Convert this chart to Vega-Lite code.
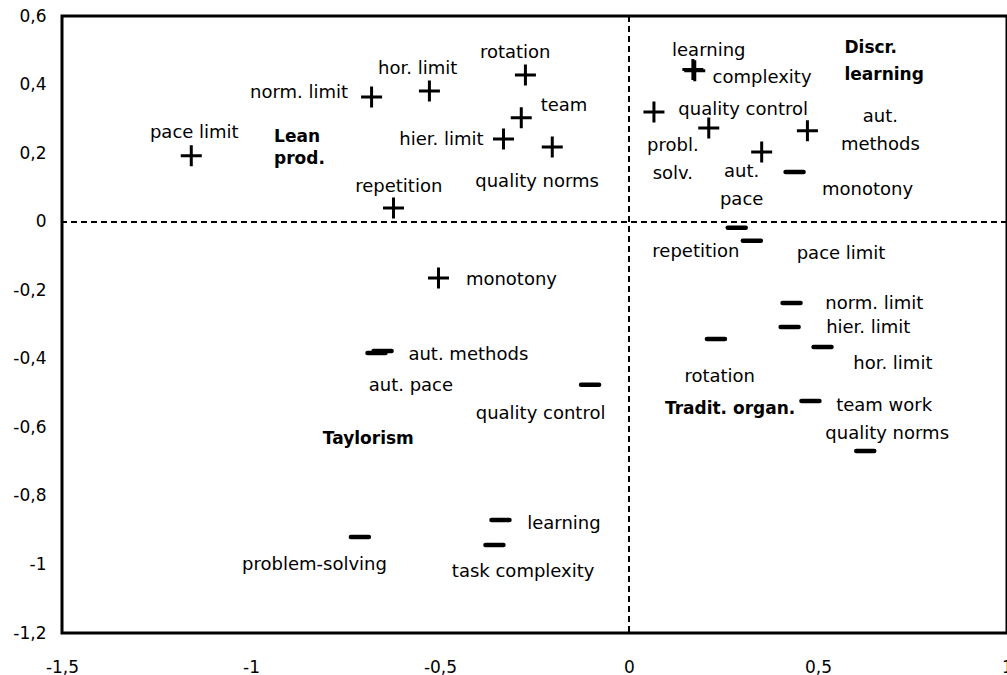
{
  "$schema": "https://vega.github.io/schema/vega-lite/v6.json",
  "width": 945,
  "height": 617,
  "autosize": {"type": "none"},
  "padding": {"left": 62, "top": 16, "right": 0, "bottom": 42},
  "background": "white",
  "config": {
    "view": {"stroke": "black", "strokeWidth": 3},
    "locale": {"number": {"decimal": ",", "thousands": ".", "grouping": [3], "currency": ["", ""], "minus": "-"}},
    "axis": {"domain": false, "ticks": false, "grid": false, "labelFont": "DejaVu Sans", "labelFontSize": 17, "labelColor": "black", "title": null, "labelFlush": false, "labelOverlap": false, "format": ".1~f"}
  },
  "datasets": {
    "items": [
      {"label": "pace limit", "sign": "plus", "x": -1.158, "y": 0.192, "lx": -1.150, "ly": 0.259},
      {"label": "norm. limit", "sign": "plus", "x": -0.681, "y": 0.364, "lx": -0.873, "ly": 0.375},
      {"label": "hor. limit", "sign": "plus", "x": -0.528, "y": 0.381, "lx": -0.559, "ly": 0.445},
      {"label": "rotation", "sign": "plus", "x": -0.274, "y": 0.428, "lx": -0.301, "ly": 0.492},
      {"label": "team", "sign": "plus", "x": -0.285, "y": 0.303, "lx": -0.172, "ly": 0.338},
      {"label": "hier. limit", "sign": "plus", "x": -0.332, "y": 0.241, "lx": -0.496, "ly": 0.238},
      {"label": "quality norms", "sign": "plus", "x": -0.203, "y": 0.218, "lx": -0.243, "ly": 0.116},
      {"label": "repetition", "sign": "plus", "x": -0.623, "y": 0.040, "lx": -0.609, "ly": 0.101},
      {"label": "monotony", "sign": "plus", "x": -0.504, "y": -0.164, "lx": -0.311, "ly": -0.170},
      {"label": "learning", "sign": "plus", "x": 0.169, "y": 0.444, "lx": 0.211, "ly": 0.498},
      {"label": "complexity", "sign": "plus", "x": 0.174, "y": 0.440, "lx": 0.352, "ly": 0.419},
      {"label": "quality control", "sign": "plus", "x": 0.066, "y": 0.320, "lx": 0.302, "ly": 0.326},
      {"label": "probl.\nsolv.", "sign": "plus", "x": 0.211, "y": 0.273, "lx": 0.116, "ly": 0.221},
      {"label": "aut.\nmethods", "sign": "plus", "x": 0.472, "y": 0.265, "lx": 0.665, "ly": 0.305},
      {"label": "aut.\npace", "sign": "plus", "x": 0.351, "y": 0.203, "lx": 0.298, "ly": 0.145},
      {"label": "monotony", "sign": "minus", "x": 0.438, "y": 0.145, "lx": 0.631, "ly": 0.092},
      {"label": "repetition", "sign": "minus", "x": 0.285, "y": -0.018, "lx": 0.177, "ly": -0.088},
      {"label": "pace limit", "sign": "minus", "x": 0.325, "y": -0.056, "lx": 0.561, "ly": -0.094},
      {"label": "norm. limit", "sign": "minus", "x": 0.430, "y": -0.237, "lx": 0.649, "ly": -0.240},
      {"label": "hier. limit", "sign": "minus", "x": 0.425, "y": -0.307, "lx": 0.633, "ly": -0.310},
      {"label": "rotation", "sign": "minus", "x": 0.230, "y": -0.342, "lx": 0.240, "ly": -0.453},
      {"label": "hor. limit", "sign": "minus", "x": 0.512, "y": -0.366, "lx": 0.698, "ly": -0.415},
      {"label": "team work", "sign": "minus", "x": 0.480, "y": -0.523, "lx": 0.675, "ly": -0.538},
      {"label": "quality norms", "sign": "minus", "x": 0.625, "y": -0.669, "lx": 0.683, "ly": -0.619},
      {"label": "aut. methods", "sign": "minus", "x": -0.668, "y": -0.383, "lx": -0.425, "ly": -0.389},
      {"label": "aut. pace", "sign": "minus", "x": -0.652, "y": -0.377, "lx": -0.577, "ly": -0.479},
      {"label": "quality control", "sign": "minus", "x": -0.103, "y": -0.476, "lx": -0.234, "ly": -0.561},
      {"label": "problem-solving", "sign": "minus", "x": -0.712, "y": -0.920, "lx": -0.832, "ly": -1.001},
      {"label": "learning", "sign": "minus", "x": -0.340, "y": -0.870, "lx": -0.172, "ly": -0.882},
      {"label": "task complexity", "sign": "minus", "x": -0.356, "y": -0.943, "lx": -0.280, "ly": -1.022}
    ],
    "groups": [
      {"label": "Lean", "x": -0.939, "y": 0.247},
      {"label": "prod.", "x": -0.939, "y": 0.183},
      {"label": "Discr.", "x": 0.570, "y": 0.507},
      {"label": "learning", "x": 0.570, "y": 0.427},
      {"label": "Taylorism", "x": -0.810, "y": -0.633},
      {"label": "Tradit. organ.", "x": 0.095, "y": -0.546}
    ]
  },
  "layer": [
    {
      "data": {"name": "items"},
      "mark": {"type": "rule", "strokeDash": [6, 4], "strokeWidth": 1, "color": "black"},
      "encoding": {
        "x": {"datum": 0, "type": "quantitative", "scale": {"domain": [-1.5, 1], "nice": false, "zero": false}, "axis": {"values": [-1.5, -1, -0.5, 0, 0.5, 1], "labelPadding": 26}}
      }
    },
    {
      "data": {"name": "items"},
      "mark": {"type": "rule", "strokeDash": [6, 4], "strokeWidth": 1, "color": "black"},
      "encoding": {
        "y": {"datum": 0, "type": "quantitative", "scale": {"domain": [-1.2, 0.6], "nice": false, "zero": false}, "axis": {"values": [-1.2, -1, -0.8, -0.6, -0.4, -0.2, 0, 0.2, 0.4, 0.6], "labelPadding": 16}}
      }
    },
    {
      "data": {"name": "items"},
      "transform": [{"filter": "datum.sign === 'plus'"}],
      "mark": {"type": "point", "shape": "M-1,0L1,0M0,-1L0,1", "size": 441, "filled": false, "stroke": "black", "strokeWidth": 3, "opacity": 1, "strokeCap": "butt"},
      "encoding": {
        "x": {"field": "x", "type": "quantitative", "scale": {"domain": [-1.5, 1], "nice": false, "zero": false}},
        "y": {"field": "y", "type": "quantitative", "scale": {"domain": [-1.2, 0.6], "nice": false, "zero": false}}
      }
    },
    {
      "data": {"name": "items"},
      "transform": [{"filter": "datum.sign === 'minus'"}],
      "mark": {"type": "point", "shape": "M-1,0L1,0", "size": 324, "filled": false, "stroke": "black", "strokeWidth": 4.5, "opacity": 1, "strokeCap": "round"},
      "encoding": {
        "x": {"field": "x", "type": "quantitative", "scale": {"domain": [-1.5, 1], "nice": false, "zero": false}},
        "y": {"field": "y", "type": "quantitative", "scale": {"domain": [-1.2, 0.6], "nice": false, "zero": false}}
      }
    },
    {
      "data": {"name": "items"},
      "mark": {"type": "text", "font": "DejaVu Sans", "fontSize": 18, "align": "center", "baseline": "middle", "lineBreak": "\n", "lineHeight": 28, "color": "black"},
      "encoding": {
        "x": {"field": "lx", "type": "quantitative", "scale": {"domain": [-1.5, 1], "nice": false, "zero": false}},
        "y": {"field": "ly", "type": "quantitative", "scale": {"domain": [-1.2, 0.6], "nice": false, "zero": false}},
        "text": {"field": "label"}
      }
    },
    {
      "data": {"name": "groups"},
      "mark": {"type": "text", "font": "DejaVu Sans", "fontSize": 17, "fontWeight": "bold", "align": "left", "baseline": "middle", "color": "black"},
      "encoding": {
        "x": {"field": "x", "type": "quantitative", "scale": {"domain": [-1.5, 1], "nice": false, "zero": false}},
        "y": {"field": "y", "type": "quantitative", "scale": {"domain": [-1.2, 0.6], "nice": false, "zero": false}},
        "text": {"field": "label"}
      }
    }
  ]
}
